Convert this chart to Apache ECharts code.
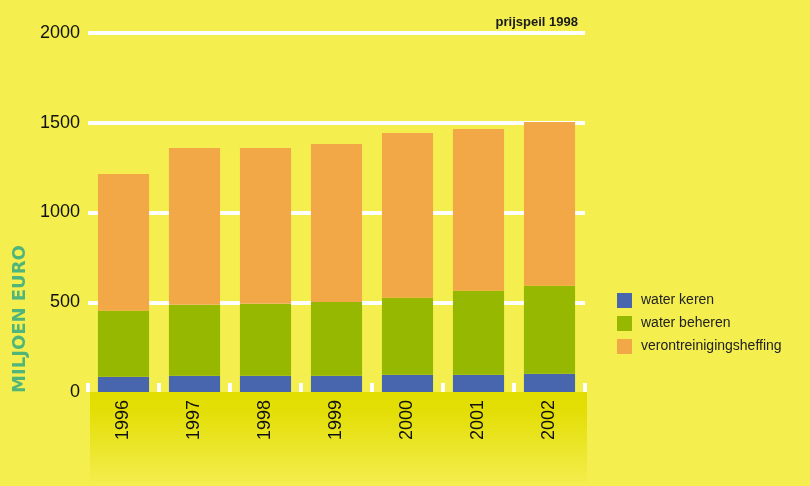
<!DOCTYPE html>
<html>
<head>
<meta charset="utf-8">
<script src="https://cdn.jsdelivr.net/npm/echarts@6/dist/echarts.min.js"></script>
<style>
  html, body { margin: 0; padding: 0; background: #f4ee4e; }
  #chart { width: 810px; height: 486px; }
</style>
</head>
<body>
<div id="chart"></div>
<script>
var years = ["1996", "1997", "1998", "1999", "2000", "2001", "2002"];
var waterKeren = [85, 91, 91, 91, 96, 96, 102];
var waterBeheren = [367, 395, 400, 411, 429, 468, 490];
var heffing = [763, 874, 869, 880, 918, 901, 912];
var yTicks = [0, 500, 1000, 1500, 2000];

var chart = echarts.init(document.getElementById("chart"));

var colorKeren = "#4866ae";
var colorBeheren = "#97b800";
var colorHeffing = "#f2a846";

function barSeries(name, data, color) {
    return {
        name: name,
        type: "bar",
        stack: "totaal",
        data: data,
        barCategoryGap: "28%",
        itemStyle: { color: color },
        z: 3
    };
}

var option = {
    backgroundColor: "#f4ee4e",
    animation: false,
    textStyle: { fontFamily: "Liberation Sans, Arial, sans-serif" },
    title: {
        text: "prijspeil 1998",
        right: 227,
        top: 11,
        textStyle: { fontSize: 13, fontWeight: "bold", color: "#1a1a1a" }
    },
    legend: {
        orient: "vertical",
        left: 612,
        top: 288,
        itemWidth: 15,
        itemHeight: 15,
        itemGap: 8,
        icon: "rect",
        textStyle: { fontSize: 14, color: "#222", padding: [0, 0, 0, 4] },
        data: ["water keren", "water beheren", "verontreinigingsheffing"]
    },
    grid: { left: 88, right: 225, top: 33, bottom: 94 },
    graphic: [
        {
            type: "rect",
            left: 90,
            top: 392,
            shape: { width: 497, height: 90 },
            style: {
                fill: {
                    type: "linear", x: 0, y: 0, x2: 0, y2: 1,
                    colorStops: [
                        { offset: 0, color: "#e2dd00" },
                        { offset: 0.2, color: "#e3de05" },
                        { offset: 1, color: "#f3ed4c" }
                    ]
                }
            },
            z: 0
        },
        {
            type: "text",
            x: 20,
            y: 319,
            rotation: Math.PI / 2,
            style: {
                text: "MILJOEN EURO",
                fill: "#4fb57b",
                font: "600 18px 'DejaVu Sans', sans-serif",
                align: "center",
                verticalAlign: "middle"
            },
            z: 5
        }
    ],
    xAxis: {
        type: "category",
        data: years,
        axisLine: { show: false },
        axisTick: {
            show: true,
            inside: true,
            length: 9,
            lineStyle: { color: "#ffffff", width: 4 }
        },
        axisLabel: {
            rotate: 90,
            fontSize: 18,
            color: "#111",
            margin: 8
        },
        z: 4
    },
    yAxis: {
        type: "value",
        min: yTicks[0],
        max: yTicks[yTicks.length - 1],
        interval: 500,
        axisLine: { show: false },
        axisTick: { show: false },
        axisLabel: {
            fontSize: 18,
            color: "#111",
            margin: 8,
            formatter: function (v) { return String(v); }
        },
        splitLine: {
            show: true,
            showMinLine: false,
            lineStyle: { color: "#ffffff", width: 4 }
        }
    },
    series: [
        barSeries("water keren", waterKeren, colorKeren),
        barSeries("water beheren", waterBeheren, colorBeheren),
        barSeries("verontreinigingsheffing", heffing, colorHeffing)
    ]
};

chart.setOption(option);
</script>
</body>
</html>
